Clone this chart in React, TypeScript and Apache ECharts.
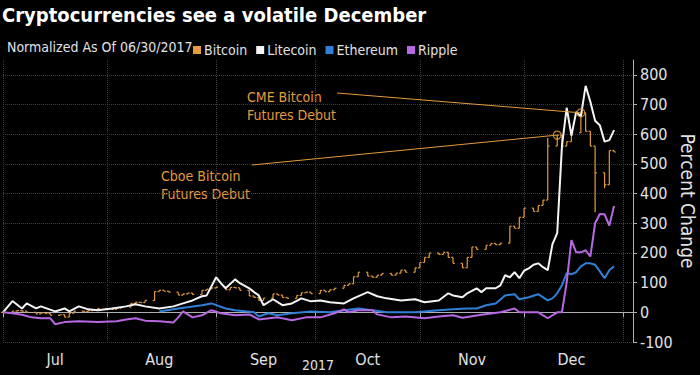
import React, { useEffect, useRef } from "react";
import * as echarts from "echarts";

const FONT = "'Liberation Sans Narrow', 'DejaVu Sans Condensed', 'Arial Narrow', sans-serif";

const TITLE = "Cryptocurrencies see a volatile December";
const SUBTITLE = "Normalized As Of 06/30/2017";
const SERIES_NAMES = ["Bitcoin", "Litecoin", "Ethereum", "Ripple"];
const COLORS = ["#e49b3d", "#f4f4f4", "#2f80d6", "#b868e2"];
const MONTH_LABELS = ["Jul", "Aug", "Sep", "Oct", "Nov", "Dec"];
const MONTH_STARTS = ["2017-06-30", "2017-08-01", "2017-09-01", "2017-10-02", "2017-11-01", "2017-12-01", "2018-01-01"];
const YEAR_LABEL = "2017";
const Y_MIN = -100;
const Y_MAX = 850;
const Y_STEP = 100;

// Bitcoin daily bars (close, % vs 06/30/2017); open = previous bar's close
const btcClose: [string, number][] = [
  ["2017-06-30", 0],
  ["2017-07-04", 4], ["2017-07-05", 6], ["2017-07-06", 4], ["2017-07-07", 0],
  ["2017-07-11", -5], ["2017-07-12", -2], ["2017-07-13", -4], ["2017-07-14", -10],
  ["2017-07-18", -8], ["2017-07-19", -16], ["2017-07-20", -3], ["2017-07-21", 4],
  ["2017-07-25", 3], ["2017-07-26", 6], ["2017-07-27", 9], ["2017-07-28", 13],
  ["2017-08-01", 12], ["2017-08-02", 10], ["2017-08-03", 14], ["2017-08-04", 17],
  ["2017-08-08", 30], ["2017-08-09", 34], ["2017-08-10", 33], ["2017-08-11", 40],
  ["2017-08-15", 70], ["2017-08-16", 74], ["2017-08-17", 71], ["2017-08-18", 68],
  ["2017-08-22", 58], ["2017-08-23", 62], ["2017-08-24", 65], ["2017-08-25", 60],
  ["2017-08-29", 74], ["2017-08-30", 78], ["2017-08-31", 82], ["2017-09-01", 85],
  ["2017-09-05", 76], ["2017-09-06", 84], ["2017-09-07", 82], ["2017-09-08", 74],
  ["2017-09-12", 55], ["2017-09-13", 50], ["2017-09-14", 40], ["2017-09-15", 48],
  ["2017-09-19", 62], ["2017-09-20", 58], ["2017-09-21", 50], ["2017-09-22", 47],
  ["2017-09-26", 57], ["2017-09-27", 66], ["2017-09-28", 68], ["2017-09-29", 63],
  ["2017-10-03", 74], ["2017-10-04", 70], ["2017-10-05", 76], ["2017-10-06", 81],
  ["2017-10-10", 91], ["2017-10-11", 96], ["2017-10-12", 120], ["2017-10-13", 135],
  ["2017-10-17", 122], ["2017-10-18", 118], ["2017-10-19", 125], ["2017-10-20", 131],
  ["2017-10-24", 125], ["2017-10-25", 132], ["2017-10-26", 142], ["2017-10-27", 135],
  ["2017-10-31", 150], ["2017-11-01", 168], ["2017-11-02", 185], ["2017-11-03", 200],
  ["2017-11-07", 195], ["2017-11-08", 202], ["2017-11-09", 185], ["2017-11-10", 165],
  ["2017-11-14", 150], ["2017-11-15", 185], ["2017-11-16", 220], ["2017-11-17", 212],
  ["2017-11-21", 226], ["2017-11-22", 232], ["2017-11-23", 228], ["2017-11-24", 233],
  ["2017-11-28", 290], ["2017-11-29", 283], ["2017-11-30", 320], ["2017-12-01", 351],
  ["2017-12-05", 340], ["2017-12-06", 360], ["2017-12-07", 378], ["2017-12-08", 560],
  ["2017-12-12", 597], ["2017-12-13", 560], ["2017-12-14", 575], ["2017-12-15", 605],
  ["2017-12-19", 672], ["2017-12-20", 610], ["2017-12-21", 560], ["2017-12-22", 470],
  ["2017-12-26", 430], ["2017-12-27", 545], ["2017-12-28", 540],
];
// days with a wider low/high range
const btcRanges: [string, number, number][] = [
  ["2017-12-08", 506, 587],
  ["2017-12-22", 337, 560],
  ["2017-12-26", 418, 456],
];

const ltc: [string, number][] = [
  ["2017-06-30", 0], ["2017-07-04", 38], ["2017-07-06", 13], ["2017-07-07", 30], ["2017-07-11", 13],
  ["2017-07-12", 20], ["2017-07-17", 3], ["2017-07-19", 13], ["2017-07-20", 3], ["2017-07-24", 20],
  ["2017-07-26", 10], ["2017-07-28", 7], ["2017-08-02", 13], ["2017-08-07", 20], ["2017-08-09", 27],
  ["2017-08-11", 20], ["2017-08-16", 13], ["2017-08-21", 20], ["2017-08-23", 30], ["2017-08-25", 40],
  ["2017-08-29", 54], ["2017-08-30", 57], ["2017-09-01", 118], ["2017-09-04", 98], ["2017-09-05", 81],
  ["2017-09-07", 111], ["2017-09-08", 98], ["2017-09-12", 81], ["2017-09-13", 68], ["2017-09-14", 57],
  ["2017-09-15", 24], ["2017-09-18", 34], ["2017-09-19", 44], ["2017-09-21", 24], ["2017-09-25", 30],
  ["2017-09-27", 47], ["2017-09-29", 37], ["2017-10-03", 40], ["2017-10-05", 34], ["2017-10-10", 30],
  ["2017-10-12", 47], ["2017-10-17", 68], ["2017-10-19", 54], ["2017-10-23", 47], ["2017-10-26", 40],
  ["2017-10-31", 44], ["2017-11-02", 34], ["2017-11-07", 40], ["2017-11-09", 64], ["2017-11-10", 57],
  ["2017-11-14", 51], ["2017-11-15", 64], ["2017-11-17", 81], ["2017-11-20", 68], ["2017-11-21", 81],
  ["2017-11-23", 81], ["2017-11-24", 91], ["2017-11-27", 125], ["2017-11-28", 118], ["2017-11-29", 135],
  ["2017-11-30", 115], ["2017-12-01", 140], ["2017-12-04", 148], ["2017-12-05", 160], ["2017-12-06", 165],
  ["2017-12-07", 152], ["2017-12-08", 142], ["2017-12-11", 230], ["2017-12-12", 267], ["2017-12-13", 560],
  ["2017-12-14", 689], ["2017-12-15", 595], ["2017-12-18", 675], ["2017-12-19", 660], ["2017-12-20", 763],
  ["2017-12-21", 709], ["2017-12-22", 645], ["2017-12-25", 630], ["2017-12-26", 575], ["2017-12-27", 580],
  ["2017-12-28", 614],
];

const eth: [string, number][] = [
  ["2017-08-16", 3], ["2017-08-22", 13], ["2017-08-29", 24], ["2017-08-31", 30], ["2017-09-05", 13],
  ["2017-09-07", 7], ["2017-09-13", 0], ["2017-09-14", -14], ["2017-09-18", -3], ["2017-09-20", -10],
  ["2017-09-25", -3], ["2017-09-29", 3], ["2017-10-05", 0], ["2017-10-13", 13], ["2017-10-18", 7],
  ["2017-10-23", 0], ["2017-10-31", 0], ["2017-11-07", 7], ["2017-11-10", 10], ["2017-11-15", 13],
  ["2017-11-17", 13], ["2017-11-21", 24], ["2017-11-23", 30], ["2017-11-27", 57], ["2017-11-29", 61],
  ["2017-11-30", 44], ["2017-12-04", 51], ["2017-12-06", 61], ["2017-12-08", 40], ["2017-12-11", 47],
  ["2017-12-12", 64], ["2017-12-13", 91], ["2017-12-14", 132], ["2017-12-15", 128], ["2017-12-18", 135],
  ["2017-12-19", 155], ["2017-12-20", 165], ["2017-12-21", 165], ["2017-12-22", 160], ["2017-12-25", 138],
  ["2017-12-26", 115], ["2017-12-27", 142], ["2017-12-28", 155],
];

const xrp: [string, number][] = [
  ["2017-06-30", 0], ["2017-07-04", -3], ["2017-07-06", -8], ["2017-07-10", -17], ["2017-07-12", -20],
  ["2017-07-14", -20], ["2017-07-17", -40], ["2017-07-19", -33], ["2017-07-24", -30], ["2017-07-28", -33],
  ["2017-08-03", -30], ["2017-08-07", -24], ["2017-08-09", -20], ["2017-08-11", -28], ["2017-08-16", -30],
  ["2017-08-21", -34], ["2017-08-22", -17], ["2017-08-23", 3], ["2017-08-25", -17], ["2017-08-29", -10],
  ["2017-08-31", 7], ["2017-09-04", -3], ["2017-09-07", -10], ["2017-09-12", -7], ["2017-09-14", -24],
  ["2017-09-20", -17], ["2017-09-25", -27], ["2017-09-28", -17], ["2017-10-03", -17], ["2017-10-06", -3],
  ["2017-10-10", 10], ["2017-10-11", 0], ["2017-10-13", 7], ["2017-10-18", 7], ["2017-10-19", -7],
  ["2017-10-24", -17], ["2017-10-27", -14], ["2017-11-02", -20], ["2017-11-07", -14], ["2017-11-10", -10],
  ["2017-11-14", -18], ["2017-11-20", -8], ["2017-11-24", 0], ["2017-11-29", 13], ["2017-11-30", 0],
  ["2017-12-06", 0], ["2017-12-08", -20], ["2017-12-12", 0], ["2017-12-13", 0], ["2017-12-14", 101],
  ["2017-12-15", 243], ["2017-12-18", 202], ["2017-12-19", 202], ["2017-12-20", 209], ["2017-12-21", 188],
  ["2017-12-22", 300], ["2017-12-25", 331], ["2017-12-26", 330], ["2017-12-27", 292], ["2017-12-28", 358],
];

const EVENTS = [
  { date: "2017-12-19", text: "CME Bitcoin\nFutures Debut" },
  { date: "2017-12-12", text: "Cboe Bitcoin\nFutures Debut" },
];

// weekday categories of the axis
function weekdays(start: string, end: string): string[] {
  const out: string[] = [];
  const d = new Date(start + "T00:00:00Z");
  const e = new Date(end + "T00:00:00Z");
  while (d <= e) {
    const wd = d.getUTCDay();
    if (wd !== 0 && wd !== 6) out.push(d.toISOString().slice(0, 10));
    d.setUTCDate(d.getUTCDate() + 1);
  }
  return out;
}
const DAYS = weekdays("2017-06-30", "2018-01-03");

export default function App() {
  const ref = useRef<HTMLDivElement>(null);

  useEffect(() => {
    if (!ref.current) return;
    const chart = echarts.init(ref.current, undefined, { renderer: "svg" });

    const tickIdx = MONTH_STARTS.map((d) => DAYS.indexOf(d));
    const tickSet = new Set(tickIdx);
    const labelMap = new Map<number, string>();
    for (let i = 0; i < MONTH_LABELS.length; i++) {
      labelMap.set(Math.floor((tickIdx[i] + tickIdx[i + 1]) / 2), MONTH_LABELS[i]);
    }

    const btcItems = btcClose.map(([d, c], i) => {
      const open = i === 0 ? c : btcClose[i - 1][1];
      const r = btcRanges.find((x) => x[0] === d);
      const low = Math.min(open, c, r ? r[1] : c);
      const high = Math.max(open, c, r ? r[2] : c);
      return [d, c, open, low, high];
    });

    const eventPts = EVENTS.map((ev) => {
      const found = btcClose.find((b) => b[0] === ev.date);
      return [ev.date, found ? found[1] : 0];
    });

    const gridCol = "#3d3d3d";
    const axisCol = "#b0b0b0";
    const txtCol = "#e2e2e2";

    chart.setOption({
      animation: false,
      backgroundColor: "#000000",
      color: COLORS,
      textStyle: { fontFamily: FONT },
      title: [
        {
          text: TITLE,
          left: 2,
          top: 5,
          padding: 0,
          textStyle: { color: "#ffffff", fontSize: 20, fontWeight: "bold", fontFamily: FONT },
        },
        {
          text: SUBTITLE,
          left: 7,
          top: 40,
          padding: 0,
          textStyle: { color: txtCol, fontSize: 14, fontWeight: "normal", fontFamily: FONT },
        },
      ],
      legend: {
        data: SERIES_NAMES,
        left: 193,
        top: 43,
        padding: 0,
        icon: "rect",
        itemWidth: 8,
        itemHeight: 8,
        itemGap: 9,
        textStyle: { color: txtCol, fontSize: 14, fontFamily: FONT, padding: [0, 0, 0, -2] },
        selectedMode: false,
      },
      grid: { left: 3, right: 67, top: 60, bottom: 33, outerBoundsMode: "none" },
      xAxis: {
        type: "category",
        data: DAYS,
        boundaryGap: false,
        axisLine: { lineStyle: { color: axisCol, width: 1 } },
        axisTick: { interval: (i: number) => tickSet.has(i), length: 5, lineStyle: { color: axisCol } },
        axisLabel: {
          interval: (i: number) => labelMap.has(i),
          formatter: (_v: string, i: number) => labelMap.get(i) || "",
          color: txtCol,
          fontSize: 16,
          fontFamily: FONT,
          margin: 9,
        },
        splitLine: {
          show: true,
          interval: (i: number) => tickSet.has(i),
          lineStyle: { color: gridCol, type: "dotted", width: 1 },
        },
        name: YEAR_LABEL,
        nameLocation: "middle",
        nameGap: 16,
        nameMoveOverlap: false,
        nameTextStyle: { color: txtCol, fontSize: 14, fontFamily: FONT },
      },
      yAxis: {
        type: "value",
        position: "right",
        min: Y_MIN,
        max: Y_MAX,
        interval: Y_STEP,
        axisLine: { show: true, lineStyle: { color: axisCol } },
        axisTick: { show: true, length: 4, lineStyle: { color: axisCol } },
        axisLabel: { color: txtCol, fontSize: 16, fontFamily: FONT, margin: 7, showMaxLabel: false },
        splitLine: { show: true, showMaxLine: false, lineStyle: { color: gridCol, type: "dotted", width: 1 } },
        name: "Percent Change",
        nameLocation: "middle",
        nameRotate: -90,
        nameGap: 45,
        nameMoveOverlap: false,
        nameTextStyle: { color: txtCol, fontSize: 19, fontFamily: FONT },
      },
      graphic: [
        {
          type: "text",
          left: 247,
          top: 88,
          silent: true,
          style: { text: EVENTS[0].text, fill: COLORS[0], fontSize: 14, fontFamily: FONT, lineHeight: 18 },
        },
        {
          type: "text",
          left: 161,
          top: 167,
          silent: true,
          style: { text: EVENTS[1].text, fill: COLORS[0], fontSize: 14, fontFamily: FONT, lineHeight: 18 },
        },
      ],
      series: [
        {
          name: SERIES_NAMES[0],
          type: "custom",
          itemStyle: { color: COLORS[0] },
          encode: { x: 0, y: [1, 2, 3, 4] },
          data: btcItems,
          z: 2,
          renderItem: (_params: any, api: any) => {
            const idx = api.value(0);
            const pc = api.coord([idx, api.value(1)]);
            const po = api.coord([idx, api.value(2)]);
            const pl = api.coord([idx, api.value(3)]);
            const ph = api.coord([idx, api.value(4)]);
            const x = pc[0];
            const w = 1.8;
            const style = { stroke: COLORS[0], lineWidth: 1.2, fill: null };
            return {
              type: "group",
              children: [
                { type: "line", shape: { x1: x, y1: ph[1], x2: x, y2: pl[1] }, style },
                { type: "line", shape: { x1: x - w, y1: po[1], x2: x, y2: po[1] }, style },
                { type: "line", shape: { x1: x, y1: pc[1], x2: x + w, y2: pc[1] }, style },
              ],
            };
          },
        },
        {
          name: SERIES_NAMES[1],
          type: "line",
          data: ltc,
          symbol: "none",
          lineStyle: { color: COLORS[1], width: 2 },
          itemStyle: { color: COLORS[1] },
          z: 3,
        },
        {
          name: SERIES_NAMES[2],
          type: "line",
          data: eth,
          symbol: "none",
          lineStyle: { color: COLORS[2], width: 2 },
          itemStyle: { color: COLORS[2] },
          z: 3,
        },
        {
          name: SERIES_NAMES[3],
          type: "line",
          data: xrp,
          symbol: "none",
          lineStyle: { color: COLORS[3], width: 2 },
          itemStyle: { color: COLORS[3] },
          z: 3,
        },
        {
          name: "events",
          type: "scatter",
          data: eventPts,
          symbol: "circle",
          symbolSize: 8,
          itemStyle: { color: "rgba(0,0,0,0)", borderColor: COLORS[0], borderWidth: 1.3 },
          z: 5,
          silent: true,
          markLine: {
            silent: true,
            symbol: ["none", "none"],
            label: { show: false },
            lineStyle: { color: COLORS[0], width: 1, type: "solid" },
            data: [
              [{ x: 337, y: 93 }, { coord: eventPts[0] }],
              [{ x: 252, y: 165 }, { coord: eventPts[1] }],
            ],
          },
        },
      ],
    });

    return () => chart.dispose();
  }, []);

  return (
    <div
      ref={ref}
      style={{ position: "absolute", left: 0, top: 0, width: 700, height: 375, background: "#000" }}
    />
  );
}
